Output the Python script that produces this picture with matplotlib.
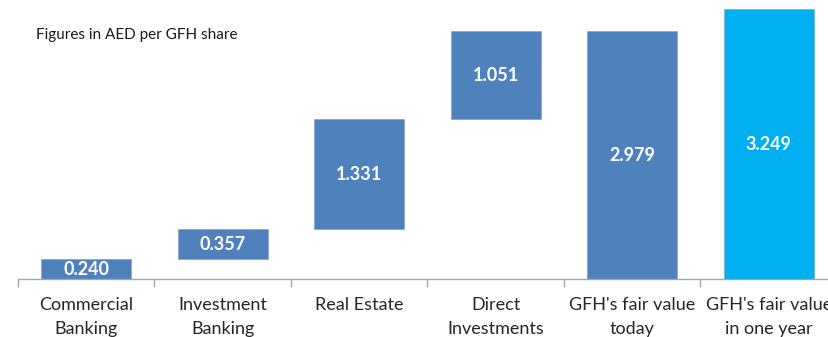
import numpy as np
import matplotlib.pyplot as plt

categories = ["Commercial\nBanking", "Investment\nBanking", "Real Estate",
              "Direct\nInvestments", "GFH's fair value\ntoday", "GFH's fair value\nin one year"]
values = [0.240, 0.357, 1.331, 1.051, 2.979, 3.249]
is_total = [False, False, False, False, True, True]
bar_colors = ["#4F81BD", "#4F81BD", "#4F81BD", "#4F81BD", "#4F81BD", "#00B0F0"]

plt.rcParams['font.family'] = ['Lato', 'DejaVu Sans']

fig = plt.figure(figsize=(8.29, 3.37), dpi=100)
# axis runs slightly past the right edge of the picture, like the original crop
ax = fig.add_axes([18 / 829, 58 / 337, 819 / 829, 279 / 337])

# waterfall bottoms: running total for components, zero for totals
bottoms = []
running = 0.0
for v, tot in zip(values, is_total):
    if tot:
        bottoms.append(0.0)
    else:
        bottoms.append(running)
        running += v

x = np.arange(len(values))
ax.bar(x, values, bottom=bottoms, width=0.66, color=bar_colors,
       edgecolor="#7FA3CF", linewidth=0.5)

for xi, v, b in zip(x, values, bottoms):
    ax.text(xi, b + v / 2, f"{v:.3f}", ha="center", va="center",
            color="white", fontsize=13, fontweight="bold")

ax.set_xlim(-0.5, len(values) - 0.5)
ax.set_ylim(0, 279 / 83.1)

for s in ["top", "right", "left"]:
    ax.spines[s].set_visible(False)
ax.spines["bottom"].set_color("#A6A6A6")
ax.spines["bottom"].set_linewidth(1.0)
ax.set_yticks([])

ax.set_xticks(np.arange(len(values) + 1) - 0.5, minor=False)
ax.set_xticklabels([])
ax.tick_params(axis="x", which="major", direction="out", length=6,
               color="#A6A6A6", width=1.0)
ax.set_xticks(x, minor=True)
ax.set_xticklabels(categories, minor=True, fontsize=13, color="#262626",
                   linespacing=1.6)
ax.tick_params(axis="x", which="minor", length=0, pad=13)

fig.text(36 / 829, 1 - 35 / 337, "Figures in AED per GFH share",
         fontsize=11, va="center", ha="left", color="#1A1A1A")

fig.savefig("out.png", dpi=100)
